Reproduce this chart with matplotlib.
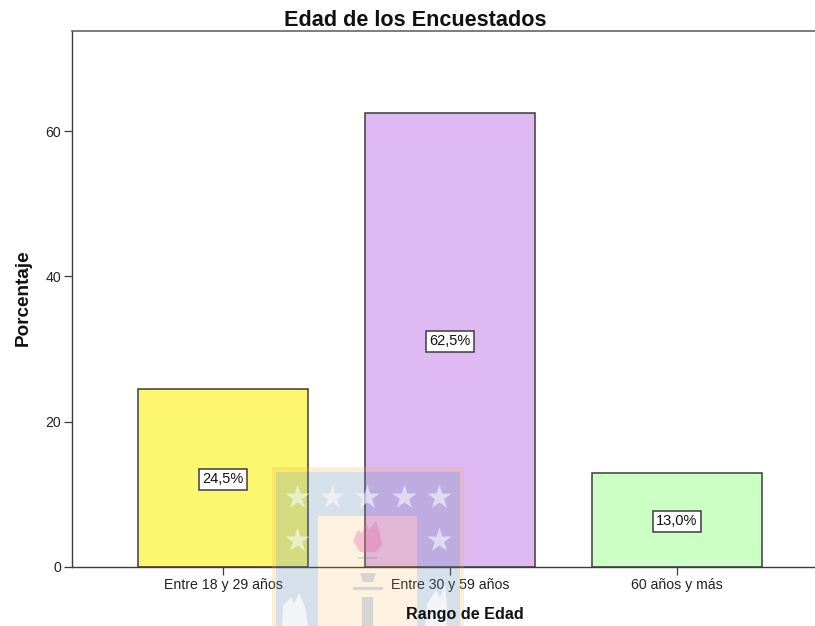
"""Edad de los Encuestados - barras con marca de agua"""

import matplotlib
matplotlib.use("Agg")
import matplotlib.pyplot as plt
from matplotlib.patches import Rectangle, Polygon

categories = ["Entre 18 y 29 años", "Entre 30 y 59 años", "60 años y más"]
percentages = [24.5, 62.5, 13.0]
value_labels = ["24,5%", "62,5%", "13,0%"]
bar_colors = ["#FCF76F", "#DEB9F2", "#CBFFC4"]
y_ticks = [0, 20, 40, 60]

W, H = 815, 626
DARK = "#3c3c3c"

plt.rcParams["font.family"] = ["Liberation Sans", "DejaVu Sans"]

fig = plt.figure(figsize=(W / 100, H / 100), dpi=100, facecolor="white")
ax = fig.add_axes([72 / W, 1 - 567 / H, (W - 72) / W, (567 - 31) / H])

x = range(len(categories))
ax.bar(x, percentages, width=0.75, color=bar_colors, edgecolor=DARK, linewidth=1.1)
ax.set_xlim(-0.665, 2.608)
ax.set_ylim(0, 73.8)

ax.set_xticks(list(x))
ax.set_xticklabels(categories)
ax.set_yticks(y_ticks)
ax.tick_params(axis="both", length=5.5, width=0.9, color=DARK, labelsize=10.2,
               labelcolor="#222222", pad=2.5)

ax.spines["right"].set_visible(False)
for side in ["left", "bottom"]:
    ax.spines[side].set_color(DARK)
    ax.spines[side].set_linewidth(1.0)
ax.spines["top"].set_color("#666666")
ax.spines["top"].set_linewidth(1.2)

for i, (val, lab) in enumerate(zip(percentages, value_labels)):
    ax.annotate(lab, (i, val / 2), xytext=(0, -1), textcoords="offset points",
                ha="center", va="center", fontsize=10.5, color="#111111",
                bbox=dict(boxstyle="square,pad=0.24", fc="white", ec=DARK, lw=1.1))

fig.text(415 / W, 1 - 20 / H, "Edad de los Encuestados", ha="center", va="center",
         fontsize=15.6, fontweight="bold", color="#111111", zorder=10)
fig.text(23 / W, 1 - 298 / H, "Porcentaje", rotation=90, ha="center", va="center",
         fontsize=13.6, fontweight="bold", color="#111111", zorder=10)
fig.text(465 / W, 1 - 615 / H, "Rango de Edad", ha="center", va="center",
         fontsize=11.6, fontweight="bold", color="#111111", zorder=10)

# marca de agua (escudo) en coordenadas de pixel, encima del grafico
wm = fig.add_axes([0, 0, 1, 1], zorder=5)
wm.set_xlim(0, W)
wm.set_ylim(H, 0)
wm.axis("off")

ORANGE = "#f5b041"
BLUE = "#5f86ad"

# borde naranja
for rect in [(272, 467, 192, 5), (272, 472, 4, 154), (460, 472, 4, 154)]:
    wm.add_patch(Rectangle(rect[:2], rect[2], rect[3], fc=ORANGE, ec="none", alpha=0.22))
# franjas azules
for rect in [(276, 472, 184, 44), (276, 516, 42, 110), (417, 516, 43, 110)]:
    wm.add_patch(Rectangle(rect[:2], rect[2], rect[3], fc=BLUE, ec="none", alpha=0.25))
# centro crema
wm.add_patch(Rectangle((318, 516), 99, 110, fc=ORANGE, ec="none", alpha=0.16))

star_x = [297, 332, 367, 404, 439, 297, 439]
star_y = [497, 497, 497, 497, 497, 540, 540]
wm.scatter(star_x, star_y, marker="*", s=340, c="white", alpha=0.55, linewidths=0)

# llama y antorcha
flame = [(353, 541), (358, 530), (362, 533), (366, 522), (369, 530), (376, 521),
         (380, 533), (382, 545), (376, 552), (360, 552)]
wm.add_patch(Polygon(flame, fc="#e85fa8", ec="none", alpha=0.32))
wm.add_patch(Rectangle((358, 557), 19, 2, fc=BLUE, ec="none", alpha=0.25))
wm.add_patch(Polygon([(360, 573), (376, 573), (373, 582), (363, 582)], fc=BLUE, alpha=0.25, ec="none"))
wm.add_patch(Rectangle((353, 587), 30, 3, fc=BLUE, ec="none", alpha=0.25))
wm.add_patch(Rectangle((362, 597), 11, 29, fc=BLUE, ec="none", alpha=0.25))

# llamas blancas inferiores
flame_left = [(282, 626), (283, 606), (291, 597), (294, 604), (299, 593), (305, 607), (308, 626)]
flame_right = [(425, 626), (427, 604), (436, 590), (440, 598), (445, 583), (447, 605), (447, 626)]
for pts in [flame_left, flame_right]:
    wm.add_patch(Polygon(pts, fc="white", ec="none", alpha=0.7))

fig.savefig("out.png", dpi=100)
